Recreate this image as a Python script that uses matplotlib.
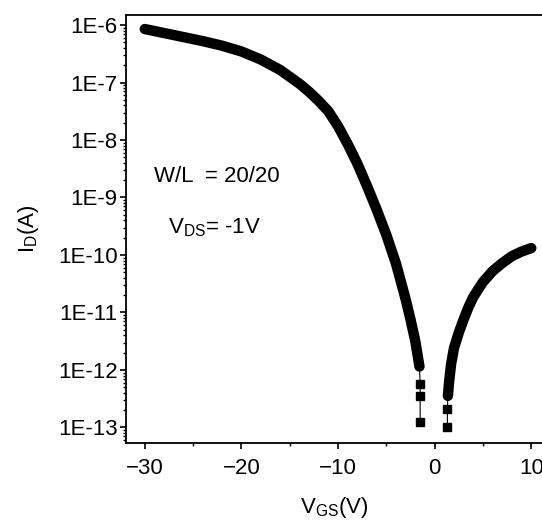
import numpy as np
import matplotlib
matplotlib.use("Agg")
import matplotlib.pyplot as plt
from matplotlib.ticker import LogLocator, MultipleLocator, FuncFormatter, NullFormatter

plt.rcParams['font.family'] = 'Liberation Sans'
plt.rcParams['mathtext.fontset'] = 'custom'
plt.rcParams['mathtext.rm'] = 'Liberation Sans'

# transfer curve: V_GS (V) and log10(I_D / A)
vgs_left = [-30, -28, -26, -24, -22, -20, -18, -16, -14, -13, -12, -11, -10,
            -9, -8, -7, -6, -5, -4, -3, -2.5, -2, -1.57]
logid_left = [-6.07, -6.14, -6.21, -6.28, -6.36, -6.46, -6.60, -6.78, -7.02, -7.16, -7.32, -7.50, -7.76,
              -8.07, -8.41, -8.80, -9.21, -9.65, -10.15, -10.77, -11.12, -11.50, -11.94]
vgs_left_tail = [-1.57, -1.5, -1.5, -1.5]
logid_left_tail = [-11.94, -12.24, -12.45, -12.9]

vgs_right = [1.37, 1.5, 1.7, 2.0, 2.5, 3.0, 3.5, 4.0, 5.0, 6.0, 7.0, 8.0, 9.0, 10.0]
logid_right = [-12.45, -12.2, -11.9, -11.62, -11.35, -11.12, -10.91, -10.73, -10.47, -10.28,
               -10.14, -10.02, -9.94, -9.88]
vgs_right_tail = [1.37, 1.32, 1.32]
logid_right_tail = [-12.45, -12.68, -12.99]

fig = plt.figure(figsize=(5.42, 5.22), dpi=100)
ax = fig.add_axes([126/542, 79/522, 416/542, 428/522])

ax.plot(vgs_left, 10**np.array(logid_left), color='k', lw=7.5,
        solid_capstyle='round', solid_joinstyle='round')
ax.plot(vgs_right, 10**np.array(logid_right), color='k', lw=7.5,
        solid_capstyle='round', solid_joinstyle='round')
for vt, lt in [(vgs_left_tail, logid_left_tail), (vgs_right_tail, logid_right_tail)]:
    it = 10**np.array(lt)
    ax.plot(vt, it, '-', color='k', lw=0.8)
    ax.plot(vt[1:], it[1:], 's', color='k', ms=5.5)

ax.set_yscale('log')
ax.set_xlim(-31.94, 11.11)
ax.set_ylim(10**-13.27, 10**-5.826)

ax.xaxis.set_major_locator(MultipleLocator(10))
ax.xaxis.set_minor_locator(MultipleLocator(5))
ax.yaxis.set_major_locator(LogLocator(base=10, numticks=20))
ax.yaxis.set_minor_locator(LogLocator(base=10, subs=np.arange(2, 10), numticks=20))
ax.yaxis.set_major_formatter(FuncFormatter(lambda v, p: '1E%d' % round(np.log10(v))))
ax.yaxis.set_minor_formatter(NullFormatter())

ax.spines['right'].set_visible(False)
for s in ['left', 'bottom', 'top']:
    ax.spines[s].set_linewidth(1.3)
ax.tick_params(which='major', length=4, width=1.2, labelsize=16)
ax.tick_params(which='minor', length=2.5, width=1)
ax.tick_params(axis='x', pad=7)
ax.tick_params(axis='y', pad=2)

ax.set_xlabel(r'$\mathregular{V_{GS}}$(V)', fontsize=16, labelpad=11)
ax.set_ylabel(r'$\mathregular{I_D}$(A)', fontsize=16, labelpad=12)

ax.text(-29.0, 10**-8.63, 'W/L  = 20/20', fontsize=16, va='center', ha='left')
ax.text(-27.6, 10**-9.53, r'$\mathregular{V_{DS}}$= -1V', fontsize=16, va='center', ha='left')

fig.savefig('out.png', dpi=100)
